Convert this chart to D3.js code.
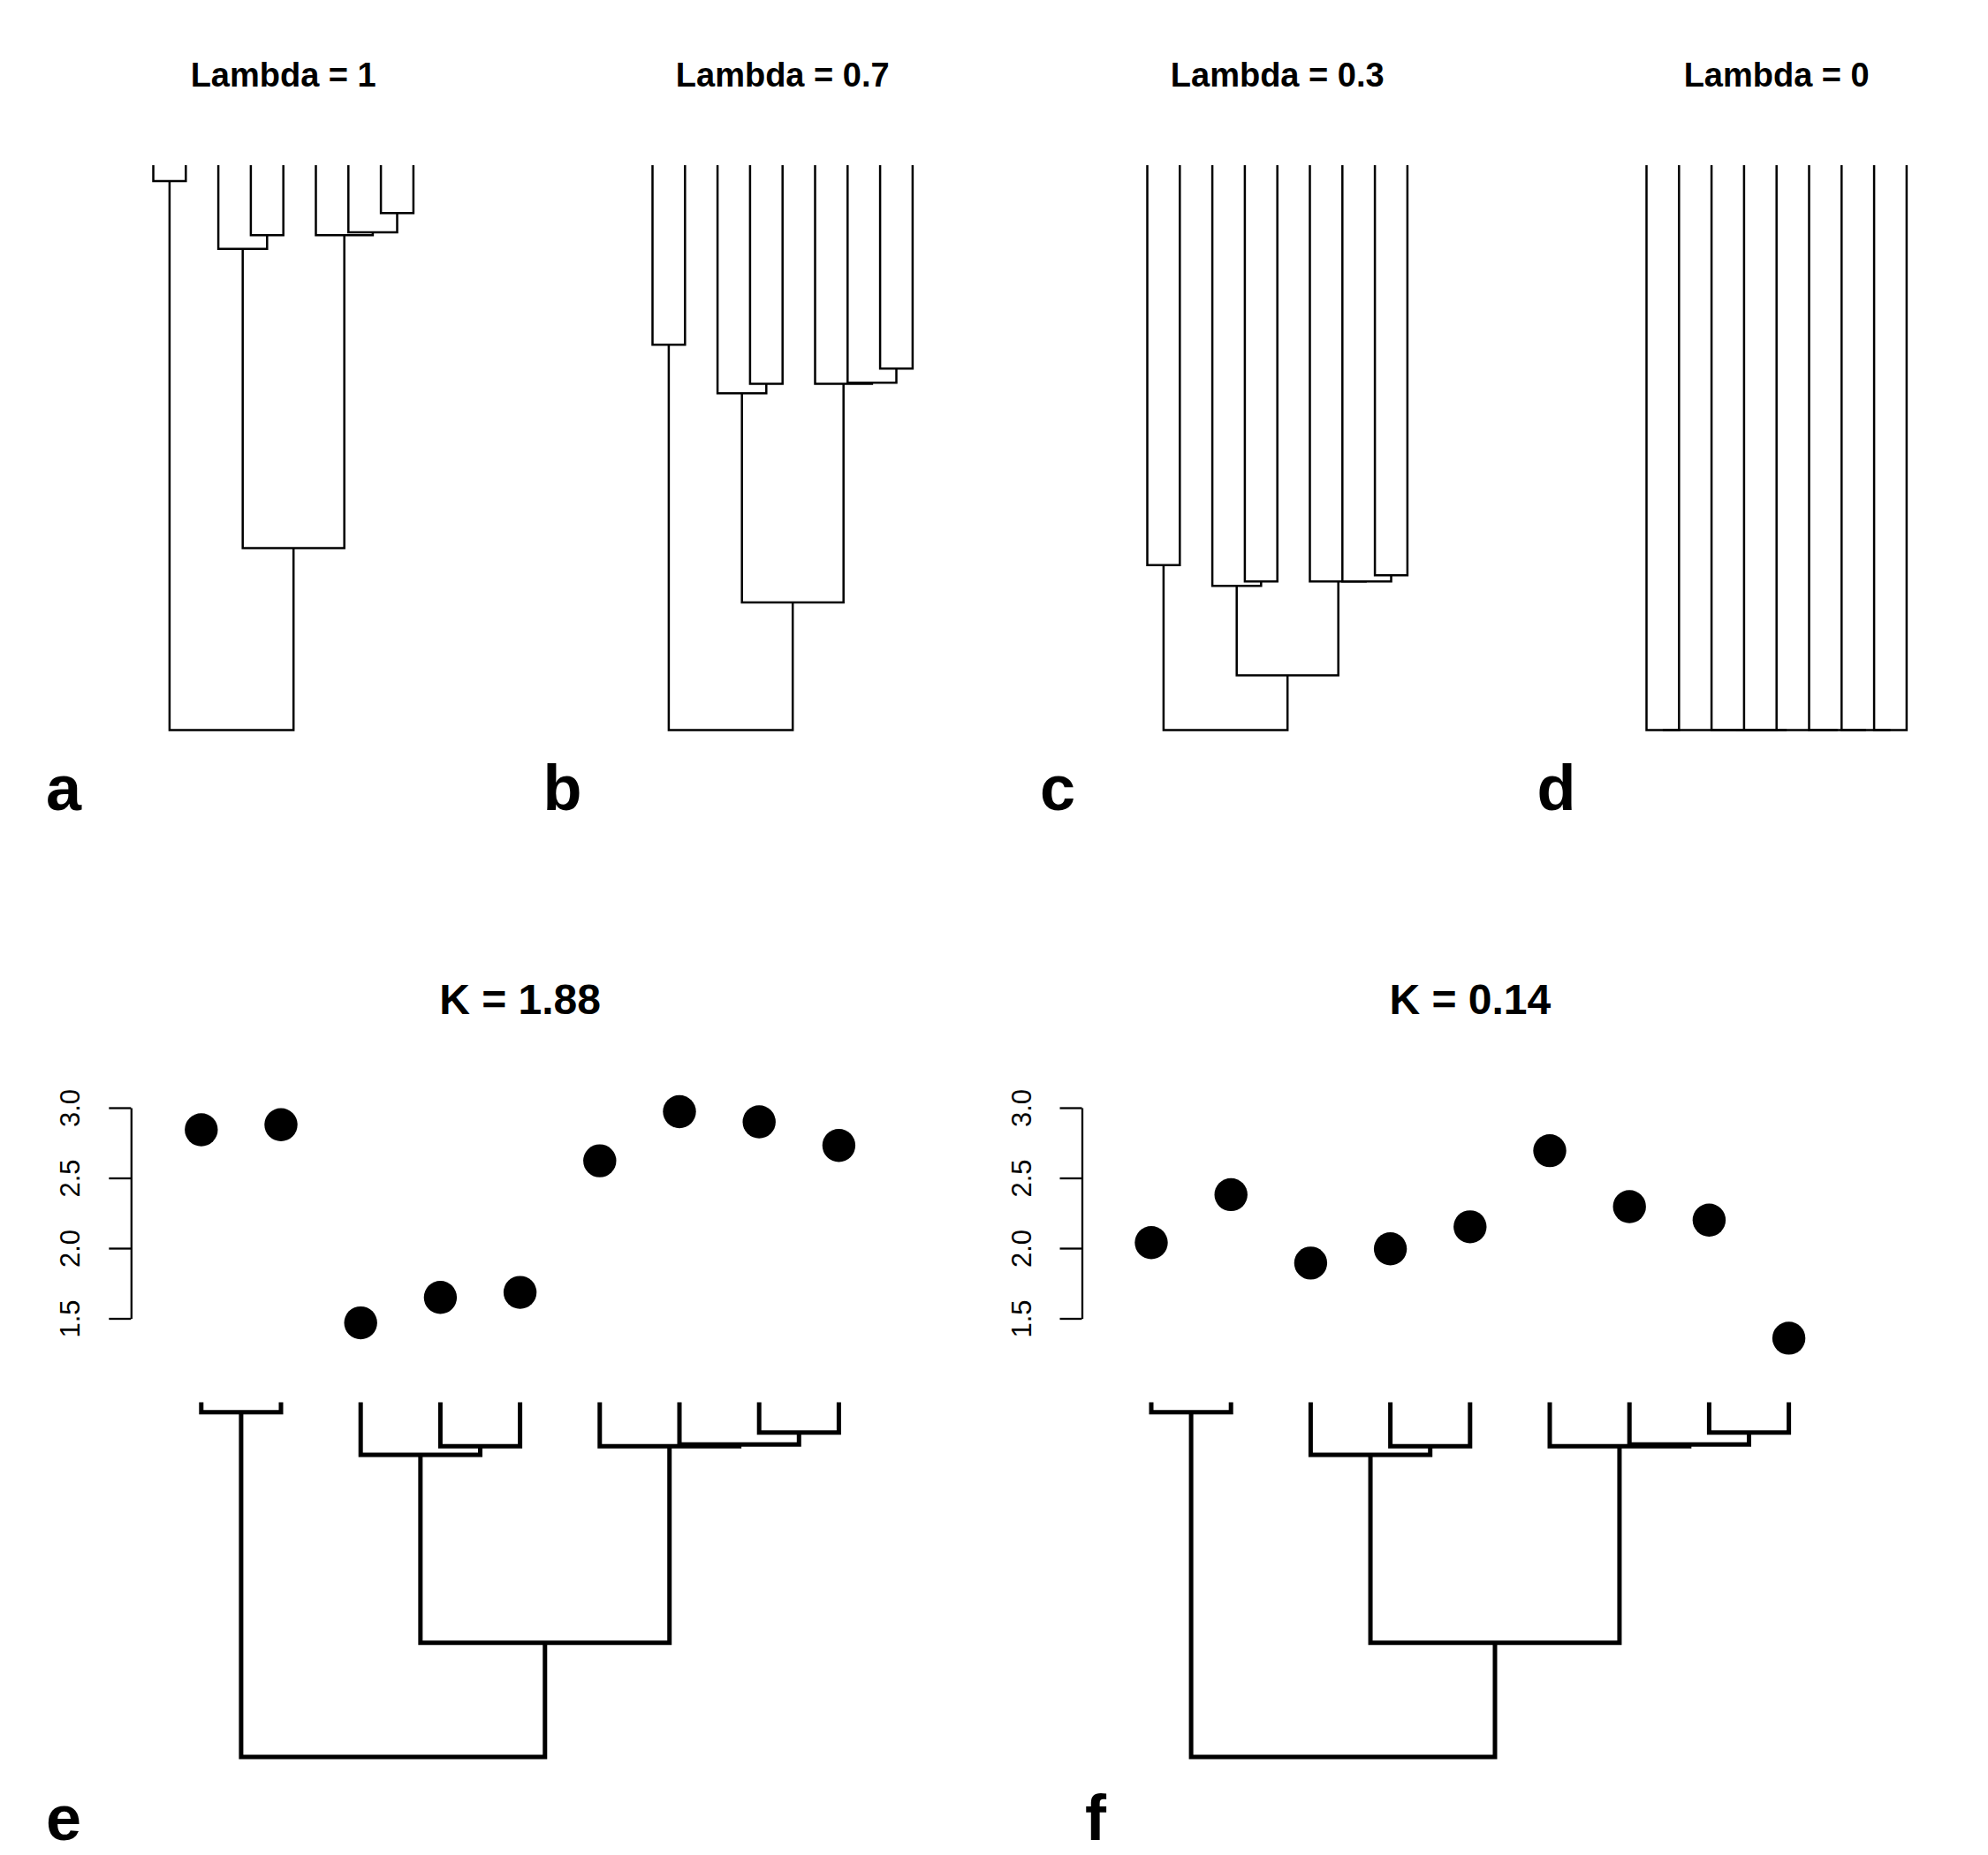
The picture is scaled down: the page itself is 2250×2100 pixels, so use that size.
<!DOCTYPE html>
<html>
<head>
<meta charset="utf-8">
<script src="https://cdn.jsdelivr.net/npm/d3@7"></script>
<style>
  body { margin: 0; background: #fff; }
  svg  { display: block; }
  text { font-family: "Liberation Sans", Arial, Helvetica, sans-serif; fill: #000; }
</style>
</head>
<body>
<div id="chart"></div>
<script>
// ─── Data ─────────────────────────────────────────────────────────────────────
// Tree topology: ((t1,t2),((t3,(t4,t5)),(t6,(t7,(t8,t9)))))
const TREE = {
  name: 'root', children: [
    { name: 'n12', children: [{ tip: 0 }, { tip: 1 }] },
    { name: 'n3to9', children: [
      { name: 'n345', children: [{ tip: 2 }, { name: 'n45', children: [{ tip: 3 }, { tip: 4 }] }] },
      { name: 'n6to9', children: [{ tip: 5 }, { name: 'n7to9', children: [{ tip: 6 }, { name: 'n89', children: [{ tip: 7 }, { tip: 8 }] }] }] }
    ] }
  ]
};
const TIP_COUNT = 9;

// Node ages (fraction of root age, 0 = tips)
const NODE_NAMES   = ['root', 'n12', 'n3to9', 'n345', 'n45', 'n6to9', 'n7to9', 'n89'];
const AGES_LAMBDA1  = [1, 0.028, 0.678, 0.148, 0.124, 0.124, 0.119, 0.085];
const AGES_LAMBDA07 = [1, 0.318, 0.774, 0.404, 0.387, 0.387, 0.385, 0.360];
const AGES_LAMBDA03 = [1, 0.708, 0.903, 0.745, 0.737, 0.737, 0.737, 0.726];
const AGES_LAMBDA0  = [1, 1, 1, 1, 1, 1, 1, 1];
const LAMBDA_TITLES = ['Lambda = 1', 'Lambda = 0.7', 'Lambda = 0.3', 'Lambda = 0'];

// Trait values at the tips (panels e, f)
const TRAIT_E = [2.843, 2.879, 1.468, 1.649, 1.685, 2.622, 2.972, 2.899, 2.731];
const TRAIT_F = [2.039, 2.381, 1.894, 1.995, 2.152, 2.694, 2.296, 2.200, 1.359];
const K_TITLES = ['K = 1.88', 'K = 0.14'];
const Y_TICKS  = [1.5, 2.0, 2.5, 3.0];
const PANEL_LETTERS = ['a', 'b', 'c', 'd', 'e', 'f'];

// ─── Layout ───────────────────────────────────────────────────────────────────
const W = 2250, H = 2100;
const TOP_TIP_X0   = [173.5, 738.5, 1298.5, 1863.5];
const TOP_TIP_STEP = 36.8;
const TOP_TIP_Y = 187, TOP_ROOT_Y = 826.4;

const BOT_TIP_X0   = [227.8, 1303];
const BOT_AXIS_X   = [148.3, 1224.5];
const BOT_TIP_STEP = 90.2;
const BOT_TIP_Y = 1587.5, BOT_ROOT_Y = 1989;
const TRAIT_RANGE = [1492.5, 1254];

const svg = d3.select('#chart').append('svg')
  .attr('width', W).attr('height', H)
  .attr('viewBox', `0 0 ${W} ${H}`);

svg.append('rect').attr('width', W).attr('height', H).attr('fill', '#fff');

// Lay out the tree: tips along x, internal nodes at mean of first/last child
function layoutTree(xScale, yScale, ages) {
  const ageOf = Object.fromEntries(NODE_NAMES.map((n, i) => [n, ages[i]]));
  const root = d3.hierarchy(TREE);
  root.eachAfter(d => {
    if (d.data.tip !== undefined) {
      d.px = xScale(d.data.tip);
      d.py = yScale(0);
    } else {
      const kids = d.children;
      d.px = (kids[0].px + kids[kids.length - 1].px) / 2;
      d.py = yScale(ageOf[d.data.name]);
    }
  });
  return root.descendants().filter(d => d.children);
}

function drawTree(g, xScale, yScale, ages, lw) {
  const nodes = layoutTree(xScale, yScale, ages);
  g.selectAll('path.edge')
    .data(nodes)
    .join('path')
    .attr('class', 'edge')
    .attr('d', d => {
      const a = d.children[0], b = d.children[d.children.length - 1];
      return `M${a.px},${a.py}V${d.py}H${b.px}V${b.py}`;
    })
    .attr('fill', 'none')
    .attr('stroke', '#000')
    .attr('stroke-width', lw)
    .attr('stroke-linejoin', 'miter')
    .attr('stroke-linecap', 'butt');
}

// ─── Top row: lambda transformations ──────────────────────────────────────────
const topAges = [AGES_LAMBDA1, AGES_LAMBDA07, AGES_LAMBDA03, AGES_LAMBDA0];
topAges.forEach((ages, i) => {
  const x = d3.scaleLinear().domain([0, TIP_COUNT - 1])
    .range([TOP_TIP_X0[i], TOP_TIP_X0[i] + (TIP_COUNT - 1) * TOP_TIP_STEP]);
  const y = d3.scaleLinear().domain([0, 1]).range([TOP_TIP_Y, TOP_ROOT_Y]);
  const g = svg.append('g').attr('class', 'panel-top');

  drawTree(g, x, y, ages, 2.5);

  g.append('text')
    .attr('x', (x.range()[0] + x.range()[1]) / 2)
    .attr('y', 97.5)
    .attr('text-anchor', 'middle')
    .attr('font-size', 38)
    .attr('font-weight', 'bold')
    .text(LAMBDA_TITLES[i]);

  g.append('text')
    .attr('x', 52 + i * 562.5)
    .attr('y', 917)
    .attr('font-size', 72)
    .attr('font-weight', 'bold')
    .text(PANEL_LETTERS[i]);
});

// ─── Bottom row: trait values on the tree (Blomberg's K) ──────────────────────
const traits = [TRAIT_E, TRAIT_F];
traits.forEach((vals, i) => {
  const x = d3.scaleLinear().domain([0, TIP_COUNT - 1])
    .range([BOT_TIP_X0[i], BOT_TIP_X0[i] + (TIP_COUNT - 1) * BOT_TIP_STEP]);
  const yTrait = d3.scaleLinear().domain([1.5, 3.0]).range(TRAIT_RANGE);
  const yTree  = d3.scaleLinear().domain([0, 1]).range([BOT_TIP_Y, BOT_ROOT_Y]);
  const g = svg.append('g').attr('class', 'panel-bottom');

  // y axis, labels parallel to the axis as in base R
  const axis = g.append('g')
    .attr('transform', `translate(${BOT_AXIS_X[i]},0)`)
    .call(d3.axisLeft(yTrait).tickValues(Y_TICKS).tickSize(25).tickSizeOuter(0)
      .tickFormat(d3.format('.1f')));
  axis.select('.domain').attr('stroke-width', 2.3);
  axis.selectAll('.tick line').attr('stroke-width', 2.3);
  axis.selectAll('.tick text')
    .attr('x', null).attr('dy', null)
    .attr('transform', 'translate(-58,0) rotate(-90)')
    .attr('text-anchor', 'middle')
    .attr('font-size', 31)
    .attr('font-family', '"Liberation Sans", Arial, sans-serif')
    .attr('fill', '#000');

  g.selectAll('circle.tip')
    .data(vals)
    .join('circle')
    .attr('class', 'tip')
    .attr('cx', (d, k) => x(k))
    .attr('cy', d => yTrait(d))
    .attr('r', 18.7)
    .attr('fill', '#000');

  drawTree(g, x, yTree, AGES_LAMBDA1, 5);

  g.append('text')
    .attr('x', (x.range()[0] + x.range()[1]) / 2)
    .attr('y', 1148)
    .attr('text-anchor', 'middle')
    .attr('font-size', 48)
    .attr('font-weight', 'bold')
    .text(K_TITLES[i]);

  g.append('text')
    .attr('x', i === 0 ? 52 : 1228)
    .attr('y', 2083)
    .attr('font-size', 72)
    .attr('font-weight', 'bold')
    .text(PANEL_LETTERS[4 + i]);
});
</script>
</body>
</html>
